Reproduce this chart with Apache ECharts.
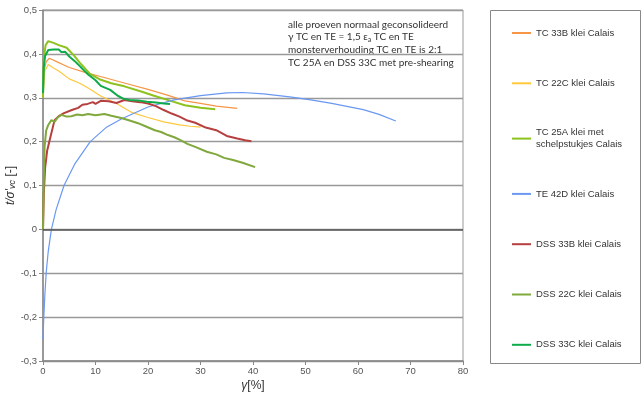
<!DOCTYPE html>
<html>
<head>
<meta charset="utf-8">
<script src="https://cdn.jsdelivr.net/npm/echarts@6/dist/echarts.min.js"></script>
<style>
  html, body { margin: 0; padding: 0; background: #fff; }
  #chart { width: 644px; height: 397px; }
</style>
</head>
<body>
<div id="chart"></div>
<script>
// reeksnamen (legenda)
const seriesNames = [
  'TC 33B klei Calais',
  'TC 22C klei Calais',
  'TC 25A klei met\nschelpstukjes Calais',
  'TE 42D klei Calais',
  'DSS 33B klei Calais',
  'DSS 22C klei Calais',
  'DSS 33C klei Calais',
];

// gamma [%], t/sigma'vc [-]
const tc33b = [
  [0, 0.3], [0.2, 0.36], [0.6, 0.382], [1.2, 0.39], [2.5, 0.383], [5, 0.369], [8, 0.358],
  [12, 0.345], [16, 0.332], [20, 0.319], [24, 0.305], [27, 0.293], [30, 0.287], [33, 0.281], [37, 0.276],
];
const tc22c = [
  [0, 0.3], [0.3, 0.36], [1, 0.376], [2, 0.368], [3, 0.361], [5, 0.343], [7, 0.333], [8.6, 0.322],
  [11, 0.304], [14, 0.287], [17, 0.266], [20, 0.255], [23, 0.245], [26, 0.238], [28, 0.235], [30, 0.233],
];
const tc25a = [
  [0, 0.3], [0.15, 0.39], [0.5, 0.42], [1, 0.429], [2, 0.425], [3, 0.42], [4.5, 0.414], [6, 0.395],
  [7, 0.38], [9, 0.354], [11, 0.341], [13, 0.333], [15.5, 0.326], [19, 0.313], [21, 0.305],
  [24, 0.294], [27, 0.283], [30, 0.277], [32.8, 0.274],
];
const te42d = [
  [0, -0.25], [0.15, -0.2], [0.35, -0.15], [0.6, -0.1], [1, -0.05], [1.6, 0], [2.5, 0.045],
  [4, 0.1], [6, 0.148], [9, 0.2], [12, 0.232], [15, 0.252], [20, 0.279], [25, 0.295], [30, 0.305],
  [35, 0.311], [38, 0.312], [42, 0.309], [47, 0.302], [51, 0.295], [55, 0.287], [61, 0.273],
  [64, 0.262], [67.2, 0.247],
];
const dss33b = [
  [0, 0], [0.15, 0.08], [0.4, 0.14], [0.8, 0.18], [1.3, 0.205], [2.2, 0.249], [3, 0.258], [4, 0.265],
  [5.5, 0.272], [6.7, 0.277], [7.5, 0.284], [8.5, 0.286], [9.5, 0.29], [10, 0.286], [11, 0.293],
  [12.5, 0.292], [14, 0.288], [15.5, 0.295], [17, 0.292], [18.5, 0.29], [20, 0.287], [21.5, 0.281],
  [23, 0.272], [24.5, 0.264], [26, 0.257], [27.5, 0.248], [29, 0.243], [31, 0.232], [33, 0.226],
  [35, 0.213], [37, 0.207], [38.5, 0.203], [39.7, 0.201],
];
const dss22c = [
  [0, 0], [0.1, 0.08], [0.3, 0.188], [0.6, 0.225], [1, 0.238], [1.6, 0.249], [2.2, 0.245],
  [2.8, 0.255], [3.5, 0.261], [4.5, 0.257], [5.4, 0.258], [6.5, 0.262], [7.5, 0.26], [8.6, 0.263],
  [10, 0.26], [11.7, 0.263], [13, 0.259], [14.9, 0.254], [16.5, 0.248], [18.1, 0.242], [19.5, 0.235],
  [21.3, 0.226], [22.5, 0.222], [23.8, 0.215], [25, 0.21], [26.1, 0.204], [27.5, 0.195], [29, 0.188],
  [31.2, 0.177], [33, 0.171], [34.5, 0.163], [36.2, 0.158], [38, 0.152], [40.4, 0.142],
];
const dss33c = [
  [0, 0.311], [0.15, 0.37], [0.4, 0.395], [1, 0.409], [2, 0.41], [3, 0.41], [3.5, 0.404],
  [4.2, 0.405], [5, 0.394], [6, 0.384], [6.7, 0.376], [7.5, 0.366], [8.6, 0.353], [10, 0.34],
  [11, 0.327], [12.8, 0.318], [14.3, 0.304], [15.3, 0.298], [16.5, 0.295], [18.1, 0.294],
  [19.8, 0.291], [21.5, 0.289], [23, 0.287], [24.2, 0.286],
];

const seriesData = [tc33b, tc22c, tc25a, te42d, dss33b, dss22c, dss33c];
const colors = ['#F79646', '#FFC83D', '#8DC21F', '#6A98F2', '#B5403F', '#80A83C', '#0FAA4A'];
const widths = [1.2, 1.2, 2, 1.2, 2, 2, 2];

// aslabels met komma
function fmtY(v) {
  if (Math.abs(v) < 1e-9) return '0';
  return v.toFixed(1).replace('.', ',');
}

const chart = echarts.init(document.getElementById('chart'));

const series = seriesNames.map((name, i) => ({
  name: name,
  type: 'line',
  data: seriesData[i],
  symbol: 'none',
  color: colors[i],
  lineStyle: { width: widths[i], color: colors[i] },
  z: 3,
}));
// donkere nullijn
series[0].markLine = {
  silent: true,
  symbol: 'none',
  label: { show: false },
  lineStyle: { color: '#555', width: 1.5, type: 'solid' },
  data: [{ yAxis: 0 }],
};

const option = {
  animation: false,
  backgroundColor: '#fff',
  textStyle: { fontFamily: 'Liberation Sans' },
  grid: {
    left: 43,
    right: 181,
    top: 10,
    bottom: 36,
    outerBoundsMode: 'none',
    show: true,
    borderColor: '#999',
    borderWidth: 1,
  },
  xAxis: {
    type: 'value',
    min: 0,
    max: 80,
    interval: 10,
    name: '{i|γ}[%]',
    nameLocation: 'middle',
    nameGap: 19,
    nameMoveOverlap: false,
    nameTextStyle: {
      fontSize: 12,
      color: '#333',
      rich: { i: { fontStyle: 'italic', fontSize: 12, color: '#333' } },
    },
    axisLine: { onZero: false, lineStyle: { color: '#888', width: 1.5 } },
    axisTick: { show: true, length: 4, lineStyle: { color: '#888' } },
    axisLabel: { fontSize: 9.5, color: '#555', margin: 5 },
    splitLine: { show: false },
  },
  yAxis: {
    type: 'value',
    min: -0.3,
    max: 0.5,
    interval: 0.1,
    name: "{i|t/σ'}{s|vc} [-]",
    nameLocation: 'middle',
    nameGap: 26,
    nameMoveOverlap: false,
    nameTextStyle: {
      fontSize: 12,
      color: '#333',
      rich: {
        i: { fontStyle: 'italic', fontSize: 12, color: '#333' },
        s: { fontStyle: 'italic', fontSize: 9, color: '#333', verticalAlign: 'bottom' },
      },
    },
    axisLine: { show: true, lineStyle: { color: '#888', width: 1.5 } },
    axisTick: { show: true, length: 4, lineStyle: { color: '#888' } },
    axisLabel: { fontSize: 9.5, color: '#555', margin: 6, formatter: fmtY },
    splitLine: { show: true, lineStyle: { color: '#999', width: 1.3 } },
  },
  legend: {
    orient: 'vertical',
    left: 507,
    top: 22,
    icon: 'rect',
    itemWidth: 19,
    itemHeight: 2,
    itemGap: 38.3,
    data: seriesNames,
    textStyle: {
      fontSize: 9.5,
      color: '#333',
      lineHeight: 12,
      height: 12,
    },
  },
  graphic: [
    {
      type: 'rect',
      left: 488,
      top: 8,
      shape: { width: 150, height: 353 },
      style: { fill: 'none', stroke: '#888', lineWidth: 1 },
      silent: true,
    },
    {
      type: 'text',
      left: 288,
      top: 18,
      style: {
        text: 'alle proeven normaal geconsolideerd\nγ TC en TE = 1,5 ε{sub|a} TC en TE\nmonsterverhouding TC en TE is 2:1\nTC 25A en DSS 33C met pre-shearing',
        font: '10px Lato',
        fill: '#333',
        lineHeight: 12.7,
        rich: {
          sub: { fontSize: 7, fontFamily: 'Lato', fill: '#333', verticalAlign: 'bottom', lineHeight: 12.7 },
        },
      },
      silent: true,
    },
  ],
  series: series,
};

chart.setOption(option);
</script>
</body>
</html>
